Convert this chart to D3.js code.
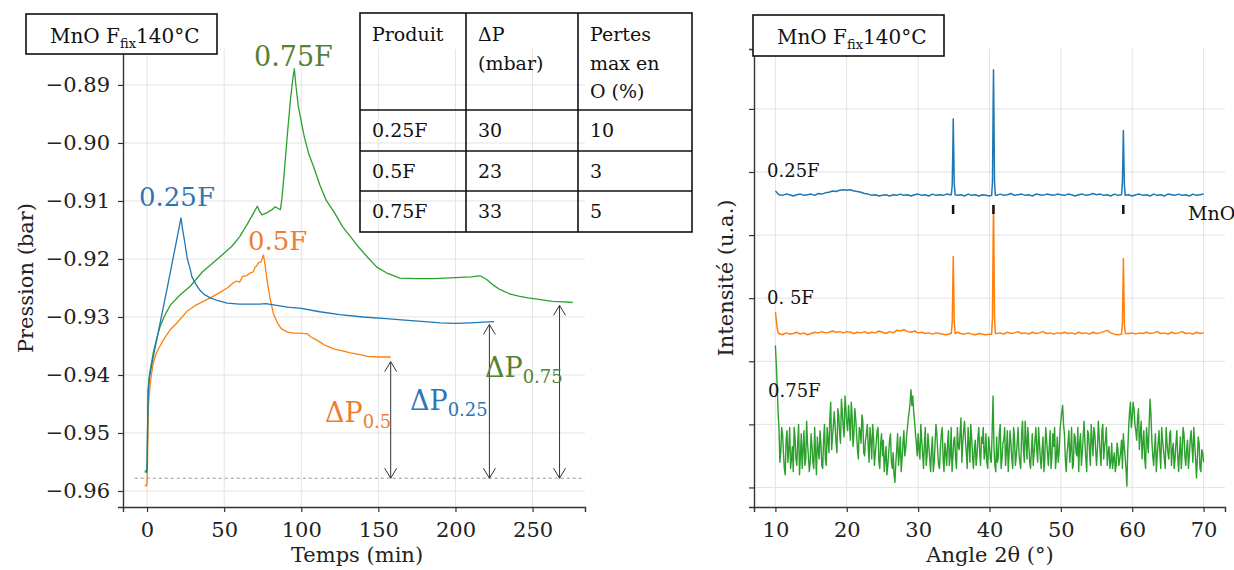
<!DOCTYPE html>
<html><head><meta charset="utf-8">
<script src="https://cdn.jsdelivr.net/npm/d3@7"></script>
<style>
body{margin:0;background:#fff}
svg{display:block}
text{font-family:"DejaVu Serif",serif}
</style>
</head><body>
<svg id="c" width="1234" height="570"></svg>
<script>
// ---------------- LEFT: pressure vs time ----------------
const tBlue = [-1.5,-0.3,0,0.3,0.7,1.5,2.5,4,6,8.5,11,13,15,17,19,21,22,23,24.5,26,28,29,32,34,37,41,46,52,60,68,73,77,82,91,100,112,125,140,155,165,180,190,200,210,218,225];
const pBlue = [-0.9565,-0.9566,-0.9560,-0.9500,-0.9430,-0.9405,-0.9390,-0.9369,-0.9342,-0.9310,-0.9277,-0.9251,-0.9224,-0.9197,-0.9170,-0.9143,-0.9129,-0.9148,-0.9172,-0.9198,-0.9218,-0.9230,-0.9245,-0.9253,-0.9261,-0.9267,-0.9272,-0.9276,-0.9278,-0.9278,-0.9278,-0.9277,-0.9279,-0.9283,-0.9285,-0.9291,-0.9296,-0.9300,-0.9303,-0.9305,-0.9308,-0.9310,-0.9311,-0.9310,-0.9309,-0.9308];

const tOrange = [-1.5,-0.3,0,0.3,0.85,1.5,2.5,4,6,8.4,10.5,15,19.5,26,32,41,47,52,56,58,60,62,64,65,67,69,70,71,72.5,74,75.5,76.5,78,80,82,84.5,87,91,95,99,104,106,110,115,121,126,132,138,143,150,158];
const pOrange = [-0.9590,-0.9591,-0.9585,-0.9550,-0.9455,-0.9430,-0.9405,-0.9380,-0.9362,-0.9350,-0.9340,-0.9322,-0.9310,-0.9290,-0.9279,-0.9267,-0.9258,-0.9250,-0.9241,-0.9238,-0.9240,-0.9230,-0.9229,-0.9228,-0.9224,-0.9222,-0.9214,-0.9212,-0.9206,-0.9205,-0.9193,-0.9210,-0.9240,-0.9271,-0.9295,-0.9310,-0.9320,-0.9326,-0.9328,-0.9328,-0.9329,-0.9334,-0.9340,-0.9348,-0.9355,-0.9358,-0.9362,-0.9365,-0.9368,-0.9369,-0.9369];

const tGreen = [-1.5,-0.3,0,0.3,0.7,1.5,2.5,4,6,8.4,11,15,21,28,36,47,55,60,65,69,71.5,73,74.5,78,81,83,85,86.5,87.5,89,91,93,94.5,95.5,96.5,98,100,102,105,108,112,116,121,127,132,138,143,149,156,164,175,186,200,210,216,220,225,229,235,241,247,255,263,270,276];
const pGreen = [-0.9567,-0.9568,-0.9560,-0.9500,-0.9425,-0.9400,-0.9385,-0.9362,-0.9340,-0.9317,-0.9300,-0.9280,-0.9263,-0.9247,-0.9222,-0.9197,-0.9178,-0.9162,-0.9140,-0.9121,-0.9109,-0.9118,-0.9124,-0.9120,-0.9115,-0.9110,-0.9113,-0.9115,-0.9095,-0.9050,-0.8985,-0.8925,-0.8890,-0.8872,-0.8900,-0.8935,-0.8963,-0.8990,-0.9020,-0.9041,-0.9072,-0.9098,-0.9118,-0.9145,-0.9162,-0.9182,-0.9197,-0.9214,-0.9225,-0.9233,-0.9234,-0.9234,-0.9232,-0.9231,-0.9229,-0.9235,-0.9246,-0.9253,-0.9260,-0.9264,-0.9267,-0.9270,-0.9273,-0.9274,-0.9275];

const xTicksL = [0,50,100,150,200,250];
const yTicksL = [-0.96,-0.95,-0.94,-0.93,-0.92,-0.91,-0.90,-0.89];
const refLevel = -0.9578;
const arrowT = [158,222,267.5];
const arrowTop = [-0.9377,-0.9313,-0.9280];

// table
const tableHeader = [["Produit"],["ΔP","(mbar)"],["Pertes","max en","O (%)"]];
const tableProduit = ["0.25F","0.5F","0.75F"];
const tableDeltaP = ["30","23","33"];
const tablePertes = ["10","3","5"];

// ---------------- RIGHT: XRD ----------------
const xrdGrid = d3.range(0, 121).map(i => 10 + i*0.5);
const blueBase = [4.70,4.64,4.63,4.65,4.64,4.62,4.64,4.65,4.63,4.64,4.65,4.63,4.66,4.65,4.67,4.68,4.70,4.69,4.71,4.72,4.71,4.72,4.70,4.69,4.68,4.66,4.65,4.63,4.64,4.62,4.63,4.64,4.62,4.64,4.63,4.65,4.63,4.64,4.62,4.64,4.65,4.63,4.64,4.62,4.65,4.63,4.64,4.63,4.65,4.64,4.64,4.63,4.64,4.62,4.65,4.63,4.64,4.62,4.64,4.63,4.62,4.63,4.63,4.65,4.63,4.64,4.66,4.63,4.64,4.65,4.63,4.64,4.62,4.65,4.64,4.63,4.65,4.64,4.63,4.65,4.64,4.63,4.65,4.64,4.62,4.64,4.65,4.63,4.64,4.66,4.64,4.65,4.63,4.64,4.62,4.65,4.63,4.64,4.63,4.64,4.62,4.64,4.65,4.63,4.64,4.62,4.65,4.63,4.64,4.62,4.65,4.64,4.63,4.65,4.63,4.64,4.62,4.65,4.63,4.64,4.65];
const bluePeaks = [
  [[34.65,4.64],[34.78,4.80],[34.86,5.35],[34.92,5.84],[34.98,5.40],[35.06,4.82],[35.18,4.64]],
  [[40.30,4.63],[40.42,4.85],[40.50,5.90],[40.56,6.62],[40.62,5.95],[40.70,4.85],[40.82,4.63]],
  [[58.50,4.64],[58.62,4.82],[58.70,5.25],[58.76,5.66],[58.82,5.25],[58.90,4.80],[59.02,4.63]]
];
const orangeBase = [2.78,2.44,2.42,2.45,2.43,2.44,2.46,2.43,2.45,2.42,2.44,2.46,2.45,2.47,2.45,2.46,2.48,2.46,2.47,2.45,2.47,2.46,2.44,2.46,2.45,2.47,2.44,2.46,2.45,2.48,2.46,2.44,2.47,2.45,2.49,2.48,2.50,2.47,2.46,2.48,2.45,2.46,2.44,2.45,2.43,2.45,2.44,2.43,2.42,2.44,2.44,2.46,2.44,2.43,2.45,2.43,2.42,2.44,2.43,2.42,2.43,2.43,2.44,2.45,2.43,2.46,2.44,2.45,2.47,2.44,2.45,2.43,2.46,2.44,2.45,2.47,2.44,2.45,2.43,2.45,2.44,2.46,2.44,2.45,2.43,2.46,2.44,2.45,2.43,2.46,2.44,2.45,2.47,2.49,2.45,2.43,2.42,2.44,2.44,2.44,2.45,2.43,2.45,2.44,2.46,2.44,2.45,2.47,2.44,2.45,2.43,2.46,2.44,2.45,2.47,2.44,2.45,2.43,2.46,2.44,2.45];
const orangePeaks = [
  [[10.00,2.78],[10.10,2.68],[10.25,2.52],[10.40,2.45]],
  [[34.65,2.44],[34.78,2.62],[34.86,3.20],[34.92,3.66],[34.98,3.25],[35.06,2.62],[35.18,2.44]],
  [[40.30,2.43],[40.42,2.70],[40.50,3.80],[40.56,4.47],[40.62,3.85],[40.70,2.70],[40.82,2.44]],
  [[58.50,2.43],[58.62,2.60],[58.70,3.15],[58.76,3.63],[58.82,3.20],[58.90,2.60],[59.02,2.44]]
];
// green: values at 10.00, 10.25, ... 70.00 and in-between values at 10.125, 10.375, ... 69.875
const greenStart = 10, greenStep = 0.25;
const greenVals = [2.25,1.60,0.95,0.55,0.85,0.30,0.75,0.40,0.95,0.45,0.25,0.80,0.35,1.00,0.50,0.30,0.90,0.45,0.70,0.25,0.85,0.40,0.95,0.20,0.60,0.90,0.35,0.75,0.45,0.95,0.55,1.35,0.80,1.20,0.70,1.25,0.85,1.40,0.95,1.45,1.00,1.30,0.75,1.15,0.85,1.10,0.60,0.95,0.70,1.05,0.50,0.85,0.65,0.95,0.45,0.80,0.55,0.90,0.40,0.70,0.50,0.25,0.65,0.35,0.75,0.40,0.55,0.08,0.60,0.35,0.80,0.45,0.90,0.60,0.95,1.20,1.55,1.45,1.05,0.70,0.85,0.45,0.75,0.30,0.95,0.50,0.65,0.25,0.80,0.40,1.00,0.55,0.30,0.85,0.45,0.70,0.35,0.90,0.50,0.25,0.75,0.45,0.95,0.60,1.10,0.70,1.05,0.55,0.95,0.40,0.80,0.30,0.75,0.50,0.95,0.35,0.70,0.45,0.85,0.30,0.65,0.40,1.45,0.35,0.80,0.50,1.00,0.45,0.75,0.35,0.90,0.55,0.70,0.30,0.80,0.50,0.95,0.40,0.85,0.60,1.05,0.45,0.70,0.30,0.85,0.55,0.95,0.40,0.70,0.30,0.80,0.45,0.75,0.35,0.90,0.50,0.65,0.30,0.80,0.55,1.05,1.30,0.85,0.25,0.70,0.40,0.95,0.35,0.80,0.50,0.25,0.85,0.55,1.05,0.45,0.90,0.60,1.00,0.50,0.85,0.35,1.05,0.55,0.90,0.45,0.75,0.35,0.65,0.40,0.30,0.55,0.35,0.60,0.45,0.75,0.85,0.50,0.02,0.95,1.35,1.10,1.25,0.90,1.10,0.60,1.05,0.70,0.45,0.95,0.55,1.40,0.75,0.35,0.85,0.50,0.90,0.30,0.75,0.45,0.95,0.55,0.85,0.35,0.70,0.45,0.90,0.25,0.80,0.55,0.85,0.35,0.75,0.50,0.90,0.40,0.70,0.15,0.80,0.30,0.60,0.40];
const greenMid = [1.95,1.20,0.40,0.95,
  0.55,0.20,0.90,0.60,0.30,0.65,0.95,0.45, 0.70,0.20,0.85,0.60,0.35,1.05,0.50,0.40,
  0.65,0.30,0.55,0.80,0.45,0.70,0.30,1.00, 0.35,0.75,1.10,0.60,1.00,0.95,0.55,1.15,
  0.70,1.20,0.80,1.25,0.90,1.05,1.35,0.65, 1.25,0.85,0.45,0.90,1.15,0.55,0.75,1.00,
  0.40,0.75,1.00,0.35,0.70,0.95,0.30,0.85, 0.75,0.45,0.20,0.55,0.85,0.30,0.20,0.40,
  0.85,0.55,0.25,0.70,0.50,0.80,1.10,1.35, 1.30,1.20,0.85,0.50,0.60,1.00,0.55,0.70,
  0.35,0.85,0.45,0.60,0.25,0.70,0.85,0.35, 0.65,0.95,0.25,0.55,0.70,0.35,0.95,0.50,
  0.80,0.30,0.65,0.85,0.40,0.90,0.75,0.30, 0.70,1.00,0.50,0.60,0.35,0.80,0.55,0.80,
  0.95,0.55,0.40,0.80,0.45,0.90,0.65,0.25, 0.40,0.85,0.30,0.70,0.95,0.60,0.25,0.90,
  0.45,0.95,0.35,0.70,0.55,0.30,1.05,0.40, 0.75,0.95,0.40,0.60,0.35,0.75,0.60,0.95,
  0.45,0.60,0.25,0.95,0.55,0.65,0.30,0.85, 0.95,0.50,0.40,0.90,1.20,1.00,0.45,0.55,
  0.90,0.60,0.30,0.85,0.55,0.95,0.70,0.35, 0.80,0.70,0.25,0.85,0.35,0.75,0.95,0.60,
  0.60,0.80,0.35,1.00,0.65,0.95,0.55,0.30, 0.70,0.45,0.25,0.70,0.35,0.55,0.30,0.65,
  0.30,0.60,1.20,0.95,1.35,1.00,0.75,1.25, 0.85,0.45,0.90,0.30,0.75,1.00,1.15,0.50,
  0.60,0.25,0.70,0.55,0.95,0.60,0.30,0.70, 0.45,0.90,0.60,0.30,0.70,0.50,0.55,0.30,
  0.95,0.50,0.60,0.30,0.75,0.65,0.95,0.45,
  0.45,0.70,0.25,0.55];
const mnoRefAngles = [34.9, 40.55, 58.75];
const xTicksR = [10,20,30,40,50,60,70];
const yTicksR = [0,1,2,3,4,5,6];

// ---------------- drawing ----------------
const svg = d3.select("#c");
const C = {blue:"#1f77b4", orange:"#ff7f0e", green:"#2ca02c",
           tBlue:"#2e75b6", tOrange:"#ed7d31", tGreen:"#548235",
           grid:"#e3e3e3", spine:"#333", text:"#222"};

function drawFrame(g, x, y, xt, yt, yfmt){
  const [x0,x1] = x.range(), [y0,y1] = y.range();
  g.append("g").selectAll("line").data(xt).join("line")
    .attr("x1", d=>x(d)).attr("x2", d=>x(d)).attr("y1", y1).attr("y2", y0)
    .attr("stroke", C.grid).attr("stroke-width", 1);
  g.append("g").selectAll("line").data(yt).join("line")
    .attr("y1", d=>y(d)).attr("y2", d=>y(d)).attr("x1", x0).attr("x2", x1)
    .attr("stroke", C.grid).attr("stroke-width", 1);
  const ax = g.append("g").attr("transform", `translate(0,${y0})`)
    .call(d3.axisBottom(x).tickValues(xt).tickSizeOuter(0).tickSize(5).tickPadding(10));
  const ay = g.append("g").attr("transform", `translate(${x0},0)`)
    .call(d3.axisLeft(y).tickValues(yt).tickSizeOuter(0).tickSize(5).tickPadding(8).tickFormat(yfmt));
  [ax, ay].forEach(a=>{
    a.select(".domain").attr("stroke", C.spine).attr("stroke-width", 1.4);
    a.selectAll(".tick line").attr("stroke", C.spine).attr("stroke-width", 1.2);
    a.selectAll(".tick text").attr("fill", C.text).style("font-family","DejaVu Serif").style("font-size","21px");
  });
}

// LEFT
const xL = d3.scaleLinear().domain([-15.6, 284]).range([123, 585]);
const yL = d3.scaleLinear().domain([-0.96276, -0.8838]).range([507, 49]);
const gL = svg.append("g");
drawFrame(gL, xL, yL, xTicksL, yTicksL, d3.format(".2f"));

gL.append("line").attr("x1", xL(-8)).attr("x2", xL(284)).attr("y1", yL(refLevel)).attr("y2", yL(refLevel))
  .attr("stroke", "#999").attr("stroke-width", 1).attr("stroke-dasharray", "3,3");

const lineL = d3.line().x(d=>xL(d[0])).y(d=>yL(d[1]));
[[tOrange,pOrange,C.orange],[tGreen,pGreen,C.green],[tBlue,pBlue,C.blue]].forEach(([t,p,col])=>{
  gL.append("path").datum(t.map((v,i)=>[v,p[i]])).attr("d", lineL)
    .attr("fill","none").attr("stroke", col).attr("stroke-width", 1.3).attr("stroke-linejoin","round");
});

// arrows
arrowT.forEach((t,i)=>{
  const x = xL(t), yt = yL(arrowTop[i]), yb = yL(refLevel);
  const g = gL.append("g").attr("stroke","#333").attr("stroke-width",1).attr("fill","none");
  g.append("line").attr("x1",x).attr("x2",x).attr("y1",yt).attr("y2",yb);
  g.append("path").attr("d",`M${x-6},${yt+10}L${x},${yt}L${x+6},${yt+10}`);
  g.append("path").attr("d",`M${x-6},${yb-10}L${x},${yb}L${x+6},${yb-10}`);
});

// annotations left
function txt(g, x, y, s, size, col, anchor){
  return g.append("text").attr("x",x).attr("y",y).text(s).attr("fill",col)
    .style("font-size", size+"px").attr("text-anchor", anchor||"start");
}
txt(gL, 254, 66, "0.75F", 27, C.tGreen);
txt(gL, 139, 206, "0.25F", 26, C.tBlue);
txt(gL, 248, 250, "0.5F", 26, C.tOrange);
function dp(g, x, y, sub, col){
  const t = g.append("text").attr("x",x).attr("y",y).attr("fill",col).style("font-size","27px");
  t.append("tspan").text("ΔP");
  t.append("tspan").text(sub).style("font-size","18px").attr("dy", 6);
}
dp(gL, 325, 422, "0.5", C.tOrange);
dp(gL, 410, 410, "0.25", C.tBlue);
dp(gL, 485, 377, "0.75", C.tGreen);

// axis labels left
gL.append("text").attr("transform","translate(33,278) rotate(-90)").attr("text-anchor","middle")
  .style("font-size","21px").attr("fill",C.text).text("Pression (bar)");
gL.append("text").attr("x",357).attr("y",562).attr("text-anchor","middle")
  .style("font-size","21px").attr("fill",C.text).text("Temps (min)");

// table
const colX = [360,466,578,692], rowY = [13,110,151,191,232];
const gT = svg.append("g");
gT.append("rect").attr("x",colX[0]).attr("y",rowY[0]).attr("width",colX[3]-colX[0]).attr("height",rowY[4]-rowY[0])
  .attr("fill","none").attr("stroke","#111").attr("stroke-width",1.6);
colX.slice(1,3).forEach(x=>gT.append("line").attr("x1",x).attr("x2",x).attr("y1",rowY[0]).attr("y2",rowY[4]).attr("stroke","#111").attr("stroke-width",1.6));
rowY.slice(1,4).forEach(y=>gT.append("line").attr("x1",colX[0]).attr("x2",colX[3]).attr("y1",y).attr("y2",y).attr("stroke","#111").attr("stroke-width",1.6));
tableHeader.forEach((lines,ci)=>lines.forEach((s,li)=>txt(gT, colX[ci]+12, 41+li*28.5, s, 19, "#111")));
[tableProduit, tableDeltaP, tablePertes].forEach((col,ci)=>col.forEach((s,ri)=>txt(gT, colX[ci]+12, 137+ri*40.5, s, 19, "#111")));

// label boxes
function labelBox(x, y, w, h){
  svg.append("rect").attr("x",x).attr("y",y).attr("width",w).attr("height",h)
    .attr("fill","#fff").attr("stroke","#111").attr("stroke-width",1.6);
  const t = svg.append("text").attr("x",x+24).attr("y",y+29).attr("fill","#111").style("font-size","20px");
  t.append("tspan").text("MnO F");
  t.append("tspan").text("fix").style("font-size","13px").attr("dy",5);
  t.append("tspan").text("140°C").attr("dy",-5);
}
labelBox(26, 14, 191, 40);

// RIGHT
const xR = d3.scaleLinear().domain([7, 73]).range([754, 1225]);
const yR = d3.scaleLinear().domain([-0.31, 6.95]).range([507, 49]);
const gR = svg.append("g");
drawFrame(gR, xR, yR, xTicksR, yTicksR, ()=>"");

function buildSeries(base, peaks){
  const pts = xrdGrid.map((a,i)=>[a, base[i]])
    .filter(([a])=>!peaks.some(p=>a>=p[0][0] && a<=p[p.length-1][0]));
  peaks.forEach(p=>p.forEach(q=>pts.push(q)));
  return pts.sort((a,b)=>a[0]-b[0]);
}
const lineR = d3.line().x(d=>xR(d[0])).y(d=>yR(d[1]));
const greenPts = [];
greenVals.forEach((v,i)=>{
  greenPts.push([greenStart + i*greenStep, v]);
  if (i < greenMid.length) greenPts.push([greenStart + (i+0.5)*greenStep, greenMid[i]]);
});
[[buildSeries(blueBase, bluePeaks), C.blue, 1.5],[buildSeries(orangeBase, orangePeaks), C.orange, 1.5],[greenPts, C.green, 1.4]].forEach(([pts,col,w])=>{
  gR.append("path").datum(pts).attr("d", lineR).attr("fill","none").attr("stroke",col)
    .attr("stroke-width",w).attr("stroke-linejoin","round");
});
// MnO reference marks
gR.append("g").selectAll("line").data(mnoRefAngles).join("line")
  .attr("x1",d=>xR(d)).attr("x2",d=>xR(d)).attr("y1",205).attr("y2",214)
  .attr("stroke","#111").attr("stroke-width",2.5);
txt(gR, 1188, 220, "MnO", 19, "#111");
txt(gR, 767, 177, "0.25F", 18, "#111");
txt(gR, 767, 304, "0. 5F", 18, "#111");
txt(gR, 768, 397, "0.75F", 18, "#111");

gR.append("text").attr("transform","translate(733,278) rotate(-90)").attr("text-anchor","middle")
  .style("font-size","21px").attr("fill",C.text).text("Intensité (u.a.)");
gR.append("text").attr("x",990).attr("y",562).attr("text-anchor","middle")
  .style("font-size","21px").attr("fill",C.text).text("Angle 2θ (°)");

labelBox(753, 15, 191, 41);
</script>
</body></html>
